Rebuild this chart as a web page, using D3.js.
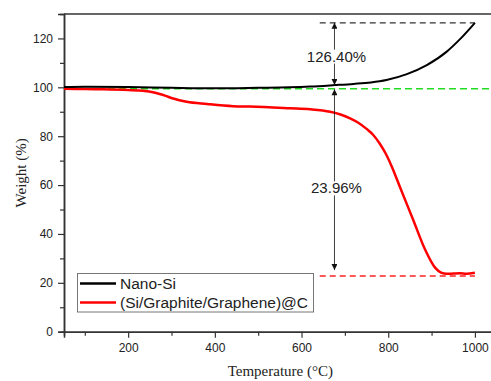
<!DOCTYPE html>
<html>
<head>
<meta charset="utf-8">
<script src="https://cdn.jsdelivr.net/npm/d3@7"></script>
<style>
  body { margin: 0; background: #fff; }
  svg { display: block; }
  .tick text { font-family: "Liberation Sans", Arial, sans-serif; font-size: 12px; fill: #222; }
</style>
</head>
<body>
<div id="chart"></div>
<script>
// TGA data
var nanoSiTemp = [52, 100, 200, 300, 400, 500, 573, 620, 677, 720, 760, 796, 843, 889, 935, 965, 1000];
var nanoSiWeight = [100.1, 100.2, 100.1, 99.8, 99.6, 99.8, 100.0, 100.3, 100.9, 101.4, 102.0, 103.0, 105.4, 109.1, 114.6, 119.6, 126.4];

var compTemp = [52, 100, 135, 200, 234, 260, 285, 304, 335, 382, 442, 481, 573, 620, 666, 690, 712, 730, 750, 765, 781, 795, 810, 827, 857, 885, 908, 922, 935, 950, 965, 980, 1000];
var compWeight = [99.4, 99.3, 99.2, 98.9, 98.6, 97.9, 96.6, 95.4, 94.1, 93.2, 92.3, 92.1, 91.4, 91.0, 90.0, 88.9, 87.3, 85.6, 83.0, 80.6, 76.8, 72.6, 66.8, 59.2, 46.0, 33.6, 26.2, 24.2, 23.7, 23.8, 23.9, 23.7, 24.1];

var seriesNames = ["Nano-Si", "(Si/Graphite/Graphene)@C"];
var xMajorTicks = [200, 400, 600, 800, 1000];
var xMinorTicks = [100, 300, 500, 700, 900];
var yMajorTicks = [0, 20, 40, 60, 80, 100, 120];
var yMinorTicks = [10, 30, 50, 70, 90, 110];

// reference levels and annotations
var baseLevel = 99.4;
var maxLevel = 126.4;
var residueLevel = 22.8;
var arrowTemp = 676;
var gainLabel = "126.40%";
var lossLabel = "23.96%";

var width = 491, height = 381;
var mLeft = 64, mTop = 14, mRight = 496.6, mBottom = 331.7;

var x = d3.scaleLinear().domain([52, 1050]).range([mLeft, mRight]);
var y = d3.scaleLinear().domain([0, 130]).range([mBottom, mTop]);

var svg = d3.select("#chart").append("svg")
    .attr("width", width)
    .attr("height", height);

svg.append("defs").append("clipPath").attr("id", "plot")
    .append("rect").attr("x", mLeft).attr("y", mTop)
    .attr("width", mRight - mLeft).attr("height", mBottom - mTop);

var marker = svg.select("defs").append("marker")
    .attr("id", "arrow")
    .attr("viewBox", "0 0 10 10")
    .attr("refX", 10).attr("refY", 5)
    .attr("markerWidth", 8).attr("markerHeight", 6)
    .attr("markerUnits", "userSpaceOnUse")
    .attr("orient", "auto-start-reverse");
marker.append("path").attr("d", "M0,0 L10,5 L0,10 Z").attr("fill", "#111");

// axes
function styleAxis(g) {
    g.select(".domain").attr("stroke", "#333").attr("stroke-width", 1.5);
    g.selectAll(".tick line").attr("stroke", "#333").attr("stroke-width", 1.2);
}

svg.append("g").attr("transform", "translate(0," + mBottom + ")")
    .call(d3.axisBottom(x).tickValues(xMinorTicks).tickSize(4).tickFormat(""))
    .call(styleAxis);
svg.append("g").attr("transform", "translate(0," + mBottom + ")")
    .call(d3.axisBottom(x).tickValues(xMajorTicks).tickSize(6).tickPadding(6).tickFormat(d3.format("d")))
    .call(styleAxis);
svg.append("g").attr("transform", "translate(" + mLeft + ",0)")
    .call(d3.axisLeft(y).tickValues(yMinorTicks).tickSize(4).tickFormat(""))
    .call(styleAxis);
svg.append("g").attr("transform", "translate(" + mLeft + ",0)")
    .call(d3.axisLeft(y).tickValues(yMajorTicks).tickSize(6).tickPadding(5).tickFormat(d3.format("d")))
    .call(styleAxis);

// top frame
svg.append("line")
    .attr("x1", mLeft).attr("x2", mRight).attr("y1", mTop).attr("y2", mTop)
    .attr("stroke", "#333").attr("stroke-width", 1.5);

// axis titles
svg.append("text")
    .attr("x", (mLeft + mRight) / 2).attr("y", 376)
    .attr("text-anchor", "middle")
    .style("font-family", "'Liberation Serif', 'Times New Roman', serif")
    .style("font-size", "15px").attr("fill", "#222")
    .text("Temperature (\u00B0C)");
svg.append("text")
    .attr("transform", "translate(26," + ((mTop + mBottom) / 2) + ") rotate(-90)")
    .attr("text-anchor", "middle")
    .style("font-family", "'Liberation Serif', 'Times New Roman', serif")
    .style("font-size", "15px").attr("fill", "#222")
    .text("Weight (%)");

var plot = svg.append("g").attr("clip-path", "url(#plot)");

// dashed reference lines
plot.append("line")
    .attr("x1", x(52)).attr("x2", x(1050))
    .attr("y1", y(baseLevel)).attr("y2", y(baseLevel))
    .attr("stroke", "#22dd22").attr("stroke-width", 1.5).attr("stroke-dasharray", "7,4");
plot.append("line")
    .attr("x1", x(642)).attr("x2", x(1000))
    .attr("y1", y(maxLevel)).attr("y2", y(maxLevel))
    .attr("stroke", "#333").attr("stroke-width", 1.2).attr("stroke-dasharray", "6,4");
plot.append("line")
    .attr("x1", x(642)).attr("x2", x(1000))
    .attr("y1", y(residueLevel)).attr("y2", y(residueLevel))
    .attr("stroke", "#ff2222").attr("stroke-width", 1.5).attr("stroke-dasharray", "6,4");

// curves
var line = d3.line()
    .x(function(d) { return x(d[0]); })
    .y(function(d) { return y(d[1]); })
    .curve(d3.curveMonotoneX);

var compData = d3.zip(compTemp, compWeight);
var nanoData = d3.zip(nanoSiTemp, nanoSiWeight);

plot.append("path").datum(compData)
    .attr("d", line).attr("fill", "none")
    .attr("stroke", "#ff0000").attr("stroke-width", 2.5);
plot.append("path").datum(nanoData)
    .attr("d", line).attr("fill", "none")
    .attr("stroke", "#000").attr("stroke-width", 2);

// arrows
svg.append("line")
    .attr("x1", x(arrowTemp)).attr("x2", x(arrowTemp))
    .attr("y1", y(maxLevel)).attr("y2", y(100.9))
    .attr("stroke", "#111").attr("stroke-width", 0.8)
    .attr("marker-start", "url(#arrow)").attr("marker-end", "url(#arrow)");
svg.append("line")
    .attr("x1", x(arrowTemp)).attr("x2", x(arrowTemp))
    .attr("y1", y(99.2)).attr("y2", y(25.2))
    .attr("stroke", "#111").attr("stroke-width", 0.8)
    .attr("marker-start", "url(#arrow)").attr("marker-end", "url(#arrow)");

function label(txt, val) {
    var t = svg.append("text")
        .attr("x", x(arrowTemp) + 2).attr("y", y(val))
        .attr("text-anchor", "middle")
        .style("font-family", "'Liberation Sans', Arial, sans-serif")
        .style("font-size", "15px").attr("fill", "#222")
        .text(txt);
    var b = t.node().getBBox();
    svg.insert("rect", function() { return t.node(); })
        .attr("x", x(arrowTemp) - 3).attr("y", b.y + 2)
        .attr("width", 6).attr("height", b.height - 3)
        .attr("fill", "#fff");
}
label(gainLabel, 110.5);
label(lossLabel, 56.6);

// legend
var legend = svg.append("g");
legend.append("rect")
    .attr("x", 77.5).attr("y", 273.5).attr("width", 236).attr("height", 38.5)
    .attr("fill", "#fff").attr("stroke", "#777").attr("stroke-width", 1);
var legendColors = ["#000", "#ff0000"];
seriesNames.forEach(function(name, i) {
    var cy = 283.5 + i * 19;
    legend.append("line")
        .attr("x1", 80).attr("x2", 116).attr("y1", cy).attr("y2", cy)
        .attr("stroke", legendColors[i]).attr("stroke-width", 2.5);
    legend.append("text")
        .attr("x", 120).attr("y", cy + 5)
        .style("font-family", "'Liberation Sans', Arial, sans-serif")
        .style("font-size", "15.5px").attr("fill", "#222")
        .text(name);
});
</script>
</body>
</html>
